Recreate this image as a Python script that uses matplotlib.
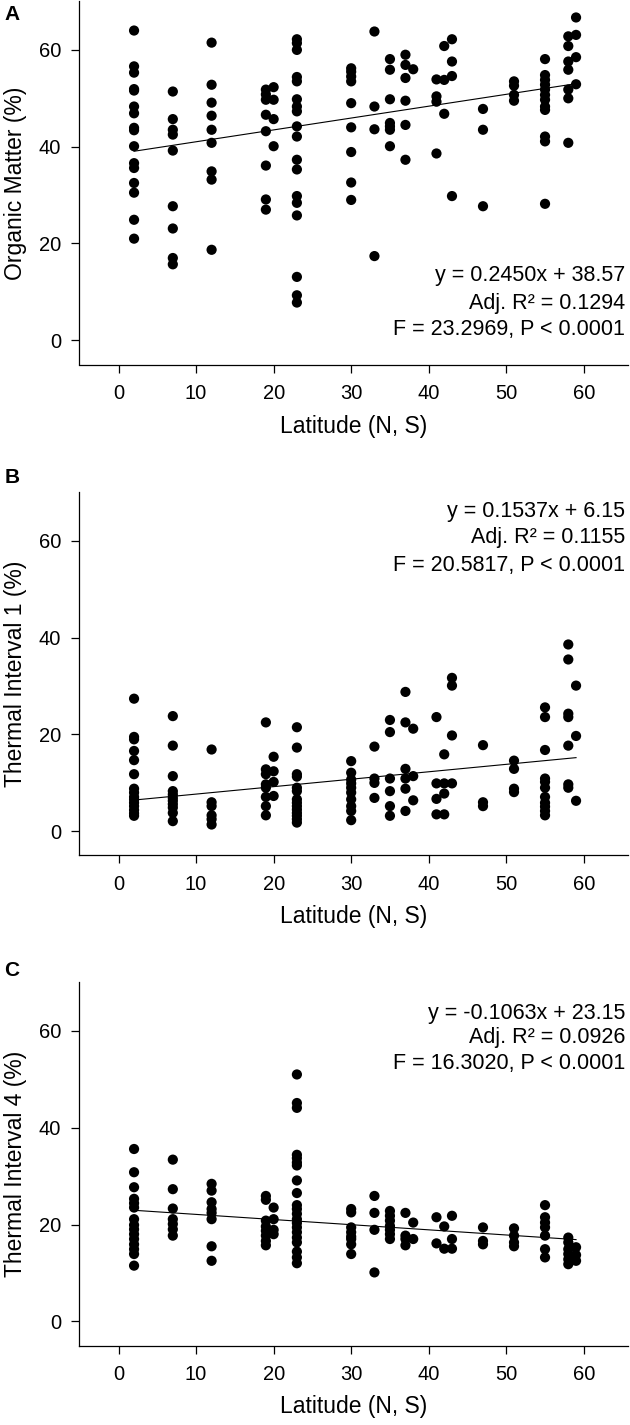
import matplotlib
matplotlib.use("Agg")
import matplotlib.pyplot as plt

plt.rcParams['font.family'] = ['Liberation Sans', 'DejaVu Sans']

# latitudes sampled (same columns in all three panels)
lats = [2, 7, 12, 19, 20, 23, 30, 33, 35, 37, 38, 41, 42, 43, 47, 51, 55, 58, 59]

# panel A: organic matter (%)
om = [
    [64.0, 56.6, 55.3, 51.9, 51.6, 48.3, 46.9, 43.9, 43.4, 40.1, 36.6, 35.6, 32.5, 30.5, 24.9, 21.0],
    [51.4, 45.7, 43.5, 42.5, 39.2, 27.7, 23.1, 17.0, 15.7],
    [61.5, 52.8, 49.1, 46.4, 43.5, 40.8, 34.9, 33.2, 18.7],
    [51.8, 50.8, 49.7, 46.6, 43.2, 36.1, 29.1, 27.0],
    [52.3, 49.7, 45.7, 40.1],
    [62.2, 61.4, 60.0, 54.4, 53.5, 49.8, 48.3, 47.3, 44.2, 42.1, 37.3, 35.3, 29.8, 28.4, 25.8, 13.1, 9.3, 7.8],
    [56.2, 55.5, 54.5, 53.5, 49.0, 44.0, 38.9, 32.6, 29.0],
    [63.8, 48.3, 43.6, 17.4],
    [58.1, 55.9, 49.8, 44.9, 44.2, 43.5, 40.1],
    [59.0, 56.9, 54.2, 49.5, 44.5, 37.3],
    [56.0],
    [53.9, 50.4, 49.3, 38.6],
    [60.8, 53.8, 46.8],
    [62.2, 57.6, 54.6, 29.8],
    [47.8, 43.5, 27.7],
    [53.5, 52.6, 50.7, 49.5],
    [58.1, 54.8, 53.8, 52.8, 51.8, 50.7, 49.7, 48.3, 47.6, 42.1, 41.1, 28.2],
    [62.8, 60.8, 57.6, 55.9, 51.8, 50.0, 40.8],
    [66.7, 63.1, 58.5, 52.9],
]

# panel B: thermal interval 1 (%)
ti1 = [
    [27.4, 19.5, 19.0, 16.6, 14.7, 11.8, 8.8, 8.0, 7.1, 6.6, 5.9, 5.2, 4.4, 3.7, 3.2],
    [23.8, 17.7, 11.4, 8.3, 7.6, 6.9, 6.3, 5.6, 4.9, 3.8, 2.1],
    [16.9, 6.0, 5.2, 3.3, 2.5, 1.4],
    [22.5, 12.8, 11.8, 9.7, 9.0, 7.1, 5.2, 3.3],
    [15.4, 12.4, 10.2, 7.3],
    [21.5, 17.3, 11.8, 11.3, 9.0, 8.3, 6.6, 5.9, 5.2, 4.5, 3.8, 3.2, 2.5, 1.8],
    [14.5, 12.1, 10.7, 9.9, 9.0, 8.0, 6.6, 5.2, 4.2, 2.3],
    [17.5, 10.9, 10.0, 6.9],
    [23.0, 20.5, 10.9, 8.3, 5.2, 3.2],
    [28.8, 22.5, 12.9, 10.9, 8.8, 4.2],
    [21.2, 11.4, 6.4],
    [23.6, 9.9, 6.7, 3.5],
    [15.9, 9.9, 7.8, 3.5],
    [31.7, 30.1, 19.8, 9.9],
    [17.8, 6.0, 5.2],
    [14.6, 12.9, 8.8, 8.1],
    [25.6, 23.6, 16.8, 10.9, 10.2, 9.0, 7.1, 5.9, 5.1, 4.2, 3.3],
    [38.6, 35.5, 24.3, 23.6, 17.7, 9.7, 9.0],
    [30.1, 19.7, 6.3],
]

# panel C: thermal interval 4 (%)
ti4 = [
    [35.6, 30.8, 27.7, 25.3, 24.4, 23.5, 21.1, 19.9, 19.0, 18.0, 17.0, 15.9, 14.9, 13.9, 11.5],
    [33.4, 27.3, 23.3, 21.1, 20.1, 19.0, 17.7],
    [28.4, 27.0, 24.6, 23.2, 22.4, 21.1, 15.5, 12.5],
    [25.9, 25.1, 20.8, 19.6, 18.7, 17.7, 16.6, 15.7],
    [23.5, 21.1, 18.9, 18.0],
    [51.0, 45.1, 44.1, 34.4, 33.7, 32.8, 32.2, 29.1, 26.5, 24.0, 23.2, 22.2, 21.1, 20.3, 19.4, 18.4, 17.3, 16.3, 14.4, 13.2, 12.0],
    [23.2, 22.5, 19.4, 18.4, 17.5, 17.0, 15.9, 13.9],
    [25.9, 22.4, 18.9, 10.1],
    [22.8, 21.8, 20.8, 19.7, 18.9, 18.0, 17.0],
    [22.4, 17.7, 17.0, 15.7],
    [20.4, 17.0],
    [21.5, 16.1],
    [19.6, 15.0],
    [21.8, 17.0, 15.0],
    [19.4, 16.6, 15.9],
    [19.2, 17.7, 16.3, 15.5],
    [24.0, 21.5, 20.4, 19.4, 17.7, 14.9, 13.2],
    [17.3, 16.3, 14.9, 13.9, 12.8, 11.8],
    [15.3, 13.7, 12.5],
]

ylabels = ['Organic Matter (%)', 'Thermal Interval 1 (%)', 'Thermal Interval 4 (%)']
letters = ['A', 'B', 'C']
slopes = [0.2450, 0.1537, -0.1063]
intercepts = [38.57, 6.15, 23.15]
stats = [
    ['y = 0.2450x + 38.57', 'Adj. R\u00b2 = 0.1294', 'F = 23.2969, P < 0.0001'],
    ['y = 0.1537x + 6.15', 'Adj. R\u00b2 = 0.1155', 'F = 20.5817, P < 0.0001'],
    ['y = -0.1063x + 23.15', 'Adj. R\u00b2 = 0.0926', 'F = 16.3020, P < 0.0001'],
]
series = [om, ti1, ti4]

W, H = 630, 1425
fig = plt.figure(figsize=(W / 100, H / 100), dpi=100)

# cajas de los ejes en pixeles: (arriba, abajo)
boxes = [(1.5, 364.5), (492.5, 855.5), (982.5, 1345.5)]
letter_y = [15, 477, 970]
stat_y = [[275, 303, 330], [512, 538, 565], [1013, 1038, 1063]]
left, right = 79, 628
fs_tick, fs_lab, fs_txt = 14.5, 16.5, 15.5

for i in range(3):
    top, bot = boxes[i]
    hpx = bot - top
    ax = fig.add_axes([left / W, 1 - bot / H, (right - left) / W, hpx / H])

    xs, ys = [], []
    for lat, vals in zip(lats, series[i]):
        xs.extend([lat] * len(vals))
        ys.extend(vals)
    ax.scatter(xs, ys, s=54, color='black', edgecolors='none', zorder=3)

    # recta de regresion
    x0, x1 = min(lats), max(lats)
    ax.plot([x0, x1], [slopes[i] * x0 + intercepts[i], slopes[i] * x1 + intercepts[i]],
            color='black', lw=0.8, zorder=2)

    ax.set_xlim(-5.1, 65.7)
    ax.set_ylim(-5, 70)
    ax.set_xticks(range(0, 61, 10))
    ax.set_yticks([0, 20, 40, 60])
    ax.spines['top'].set_visible(False)
    ax.spines['right'].set_visible(False)
    for sp in ('left', 'bottom'):
        ax.spines[sp].set_linewidth(0.9)
    ax.tick_params(direction='out', length=6, width=0.9, labelsize=fs_tick)
    ax.tick_params(axis='x', pad=8)
    ax.tick_params(axis='y', pad=7)
    ax.set_ylabel(ylabels[i], fontsize=fs_lab)
    ax.yaxis.set_label_coords((27 - left) / (right - left), 0.5)
    ax.set_xlabel('Latitude (N, S)', fontsize=fs_lab)
    ax.xaxis.set_label_coords(0.5, -50 / hpx)

    for j, line in enumerate(stats[i]):
        fig.text(625 / W, 1 - stat_y[i][j] / H, line, ha='right', va='center', fontsize=fs_txt)

    fig.text(12 / W, 1 - letter_y[i] / H, letters[i], ha='center', va='center',
             fontsize=15, fontweight='bold')

fig.savefig('out.png', dpi=100)
